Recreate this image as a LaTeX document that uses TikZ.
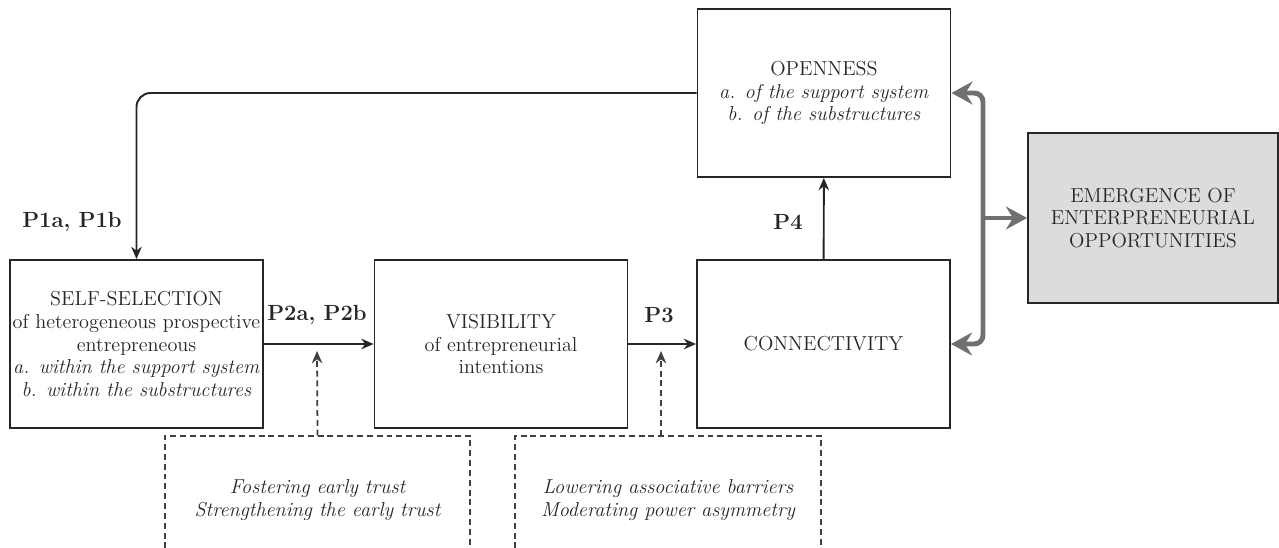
\documentclass[tikz,border=0pt]{standalone}
\usepackage{tikz}
\usetikzlibrary{calc}
\usetikzlibrary{arrows.meta}

\definecolor{linegray}{RGB}{112,112,112}
\definecolor{boxgray}{RGB}{219,220,222}

\begin{document}
\begin{tikzpicture}[x=0.02cm, y=-0.02cm, >={Stealth[length=7pt,width=6pt]},
  every box/.style={draw=black!85, line width=1.1pt, align=center, inner sep=0pt,
    minimum width=5.06cm, minimum height=3.36cm, text=black!85,
    font=\fontsize{11.5}{13}\selectfont},
  frame/.style={minimum width=6.1cm, minimum height=2.24cm},
  dashframe/.style={draw=black!75, line width=1pt, dash pattern=on 3.4pt off 2.2pt},
  note/.style={align=center, text=black!85, font=\fontsize{11.5}{13}\selectfont\itshape},
  plabel/.style={font=\fontsize{12.5}{14}\selectfont\bfseries, text=black!85},
  link/.style={->, draw=black!85, line width=1.1pt},
  grayarrow/.style={draw=linegray, line width=2.8pt,
    arrows={-Stealth[length=12pt,width=13pt,inset=4pt]}}]

\useasboundingbox (0,0) rectangle (1279,548);

\node [every box] (self) at (136.5,344) {SELF-SELECTION\\ of heterogeneous prospective\\ entrepreneous\\
  \textit{a. within the support system}\\ \textit{b. within the substructures}};
\node [every box] (vis) at (501,344) {VISIBILITY\\ of entrepreneurial\\ intentions};
\node [every box] (conn) at (823.5,344) {CONNECTIVITY};
\node [every box] (open) at (824,93) {OPENNESS\\ \textit{a. of the support system}\\ \textit{b. of the substructures}};
\node [every box, fill=boxgray, minimum width=5cm, minimum height=3.4cm] (emerg) at (1153,218)
  {EMERGENCE OF\\ ENTERPRENEURIAL\\ OPPORTUNITIES};

% moderating frames, open at the bottom
\node [frame] (trustbox) at (317.5,492) {};
\node [frame] (powerbox) at (668,492) {};
\node [note] (trust) at (317.5,500) {Fostering early trust\\ Strengthening the early trust};
\node [note] (power) at (668,500) {Lowering associative barriers\\ Moderating power asymmetry};
\foreach \b in {trustbox,powerbox}
  \draw [dashframe] (\b.south west) |- (\b.north east) -- (\b.south east);

\node [plabel] (p1) at (72,222) {P1a, P1b};
\node [plabel] (p2) at (317,315) {P2a, P2b};
\node [plabel] (p3) at (659,315) {P3};
\node [plabel] (p4) at (788,222) {P4};

\coordinate (m1) at (317,351);
\coordinate (m2) at (661,351);
\coordinate (bus) at (983,218);

\draw [link] (self) -- (vis);
\draw [link] (vis) -- (conn);
\draw [link] (conn) -- (open);
\draw [link, rounded corners=8pt] (open.west) -| (self.north);

\draw [dashframe, ->] (trustbox.north) -- (m1);
\draw [dashframe, ->] (powerbox.north -| m2) -- (m2);

\draw [grayarrow, rounded corners=5pt, arrows={Stealth[length=12pt,width=13pt,inset=4pt]-Stealth[length=12pt,width=13pt,inset=4pt]}]
  (open.east) -| (bus) |- (conn.east);
\draw [grayarrow] (bus) -- (emerg.west);

\end{tikzpicture}
\end{document}
